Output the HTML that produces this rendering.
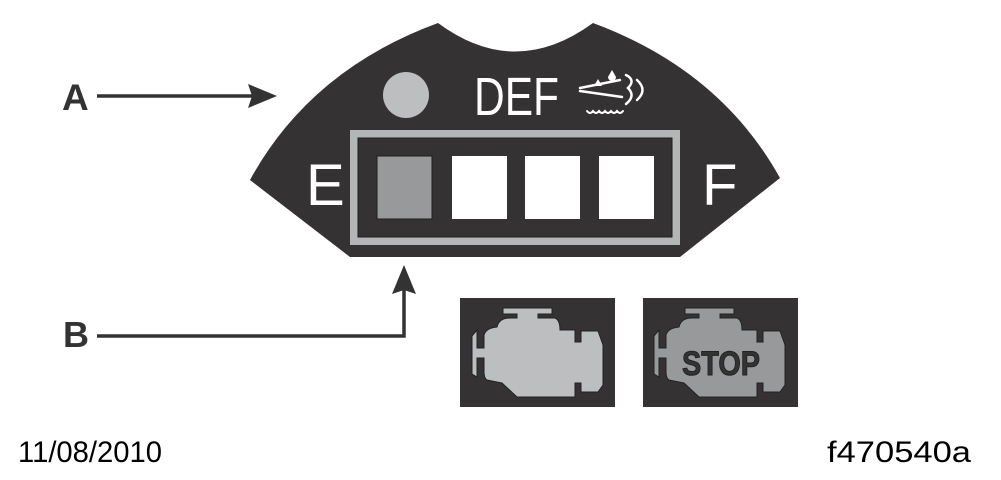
<!DOCTYPE html>
<html><head><meta charset="utf-8"><style>
html,body{margin:0;padding:0;background:#fff;}
svg{display:block;}
</style></head><body>
<svg width="1001" height="480" viewBox="0 0 1001 480" xmlns="http://www.w3.org/2000/svg">
<path d="M438,23 Q515,80 593,23 Q720,70 780,178 L680,257 L350,257 L250,180 Q310,70 438,23 Z" fill="#343233"/>
<circle cx="406" cy="95" r="23" fill="#bcbec0"/>
<text x="474" y="115" font-family="Liberation Sans, sans-serif" font-size="54" fill="#fff" textLength="85" lengthAdjust="spacingAndGlyphs">DEF</text>
<g stroke="#fff" stroke-width="2.5" fill="none" stroke-linecap="round">
<path d="M580,88 L620,80"/>
<path d="M580,91 L622,97"/>
<path d="M626,75 Q636,80 628,88 Q636,96 626,104"/>
<path d="M637,80 Q648,90 637,100"/>
<path d="M587,111 q3,4 6,0 q3,4 6,0 q3,4 6,0 q3,4 6,0 q3,4 6,0 q3,4 6,0" stroke-width="2"/>
</g>
<path d="M612,70 L608,77 A4,4 0 0 0 616,77 Z" fill="#fff"/>
<path d="M598,79 L594,86 L602,86 Z" fill="#fff"/>
<rect x="354" y="134" width="322" height="107" fill="none" stroke="#b3b5b6" stroke-width="8"/>
<rect x="358" y="138" width="314" height="99" fill="none" stroke="#1f1d1e" stroke-width="1"/>
<rect x="377" y="156" width="55" height="63" fill="#98999b" stroke="#1f1d1e" stroke-width="1"/>
<rect x="452" y="156" width="55" height="63" fill="#fff"/>
<rect x="525" y="156" width="55" height="63" fill="#fff"/>
<rect x="599" y="156" width="55" height="63" fill="#fff"/>
<text x="306" y="205" font-family="Liberation Sans, sans-serif" font-size="58" fill="#fff">E</text>
<text x="702" y="205" font-family="Liberation Sans, sans-serif" font-size="58" fill="#fff">F</text>
<text x="62" y="110" font-family="Liberation Sans, sans-serif" font-weight="bold" font-size="37" fill="#333">A</text>
<line x1="97" y1="96" x2="255" y2="96" stroke="#333" stroke-width="3.5"/>
<path d="M277,96 L248,84 L252,96 L248,108 Z" fill="#333"/>
<text x="63" y="347" font-family="Liberation Sans, sans-serif" font-weight="bold" font-size="36" fill="#333">B</text>
<polyline points="97,336 404,336 404,285" fill="none" stroke="#333" stroke-width="3.5"/>
<path d="M404,265 L392,294 L404,290 L416,294 Z" fill="#333"/>
<rect x="460" y="298" width="155" height="109" fill="#343233"/>
<rect x="643" y="298" width="155" height="109" fill="#343233"/>
<defs>
<path id="eng" d="M503,308 L552,308 L552,314 L538,314 L538,318 L555,318 Q560,320 560,330 L575,330 L575,342 L581,342 L581,331 L598,331 L603,345 L603,385 L598,392 L581,392 L581,383 L575,383 L575,397 L517,397 L502,383 L487,380 Q484,378 484,372 L484,358 L477,358 L477,377 L472,374 L472,336 L477,330 L477,348 L484,348 L484,335 Q486,328 497,327 Q499,318 510,318 L517,318 L517,314 L503,314 Z" stroke="#222" stroke-width="1"/>
</defs>
<use href="#eng" fill="#bcbec0"/>
<use href="#eng" fill="#98999b" transform="translate(182,0)"/>
<text x="682" y="375" font-family="Liberation Sans, sans-serif" font-weight="bold" font-size="34" fill="#333" stroke="#222" stroke-width="1" textLength="78" lengthAdjust="spacingAndGlyphs">STOP</text>
<text x="18" y="462" font-family="Liberation Sans, sans-serif" font-size="30" fill="#000" textLength="144" lengthAdjust="spacingAndGlyphs">11/08/2010</text>
<text x="827" y="462" font-family="Liberation Sans, sans-serif" font-size="30" fill="#000" textLength="144" lengthAdjust="spacingAndGlyphs">f470540a</text>
</svg>
</body></html>
